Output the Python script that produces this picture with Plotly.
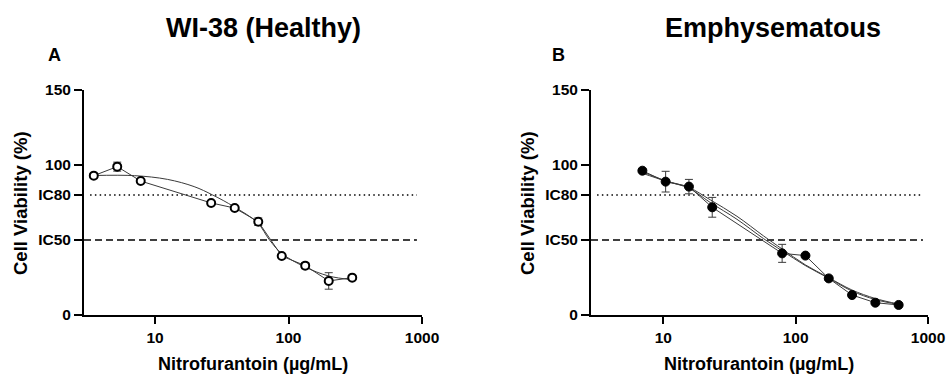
import plotly.graph_objects as go

# ---------------- data ----------------
# Panel A: WI-38 (Healthy)
conc_a = [3.47, 5.2, 7.8, 26.3, 39.5, 59.3, 88.9, 133.3, 200, 300]
viab_a = [92.9, 98.9, 89.3, 74.7, 71.3, 62.2, 39.3, 32.9, 22.7, 24.9]
err_a = [1.5, 3.0, 1.0, 1.0, 1.0, 2.5, 1.0, 2.0, 5.5, 1.0]
fit_conc_a = [3.47, 7, 12.4, 19.6, 27, 39, 58.5, 72, 89, 133, 200, 300]
fit_viab_a = [93.0, 92.9, 90.4, 85.6, 80.0, 72.2, 61.5, 50.0, 41.0, 32.0, 26.0, 23.5]

# Panel B: Emphysematous
conc_b = [6.94, 10.4, 15.6, 23.4, 79.0, 118.5, 177.8, 266.7, 400, 600]
viab_b = [96.2, 88.9, 85.6, 71.8, 41.1, 39.6, 24.4, 13.3, 8.2, 6.7]
err_b = [1.0, 6.9, 4.8, 6.6, 6.0, 1.0, 1.0, 1.0, 1.0, 1.0]
fit_conc_b = [6.94, 10.4, 15.6, 22.6, 36, 57, 79, 118, 177, 266, 400, 600]
fit_viab_b1 = [95.5, 89.5, 85.0, 76.8, 65.8, 52.8, 44.0, 33.5, 25.0, 16.7, 11.0, 7.3]
fit_viab_b2 = [94.5, 89.3, 84.5, 75.0, 63.8, 51.0, 42.8, 33.0, 24.6, 16.0, 10.3, 7.0]

ic80 = 80
ic50 = 50
ytick_vals = [0, 50, 80, 100, 150]
ytick_text = ["0", "IC50", "IC80", "100", "150"]
xtick_vals = [10, 100, 1000]
xtick_text = ["10", "100", "1000"]

titles = ["WI-38 (Healthy)", "Emphysematous"]
letters = ["A", "B"]
xlabel = "Nitrofurantoin (µg/mL)"
ylabel = "Cell Viability (%)"

FONT = "Liberation Sans, Arial, sans-serif"
W, H = 949, 375

fig = go.Figure()

line_col = "#3a3a3a"

# Panel A traces
fig.add_trace(go.Scatter(x=fit_conc_a, y=fit_viab_a, mode="lines",
                         line=dict(color=line_col, width=1, shape="spline", smoothing=1.0),
                         xaxis="x", yaxis="y", showlegend=False, hoverinfo="skip"))
fig.add_trace(go.Scatter(x=conc_a, y=viab_a, mode="lines+markers",
                         line=dict(color=line_col, width=1),
                         marker=dict(symbol="circle", size=8, color="white",
                                     line=dict(color="black", width=2)),
                         error_y=dict(type="data", array=err_a, visible=True,
                                      color=line_col, thickness=1, width=4),
                         xaxis="x", yaxis="y", showlegend=False, cliponaxis=False))

# Panel B traces
fig.add_trace(go.Scatter(x=fit_conc_b, y=fit_viab_b1, mode="lines",
                         line=dict(color=line_col, width=1, shape="spline", smoothing=1.0),
                         xaxis="x2", yaxis="y2", showlegend=False, hoverinfo="skip"))
fig.add_trace(go.Scatter(x=fit_conc_b, y=fit_viab_b2, mode="lines",
                         line=dict(color=line_col, width=1, shape="spline", smoothing=1.0),
                         xaxis="x2", yaxis="y2", showlegend=False, hoverinfo="skip"))
fig.add_trace(go.Scatter(x=conc_b, y=viab_b, mode="lines+markers",
                         line=dict(color=line_col, width=1),
                         marker=dict(symbol="circle", size=9, color="black",
                                     line=dict(color="black", width=1)),
                         error_y=dict(type="data", array=err_b, visible=True,
                                      color=line_col, thickness=1, width=4),
                         xaxis="x2", yaxis="y2", showlegend=False, cliponaxis=False))

# axes
xdom_a = [84 / W, 422 / W]
xdom_b = [591 / W, 928 / W]
ydom = [1 - 315 / H, 1 - 90 / H]

def xaxis_cfg(dom, lo):
    return dict(domain=dom, type="log", range=[lo, 3.0], showline=True, linecolor="black",
                linewidth=2, ticks="outside", ticklen=7, tickwidth=2, tickcolor="black",
                tickvals=xtick_vals, ticktext=xtick_text, showgrid=False, zeroline=False,
                tickfont=dict(family=FONT, size=15.5, color="black", weight="bold"),
                mirror=False, fixedrange=True, automargin=False)

def yaxis_cfg():
    return dict(domain=ydom, range=[0, 150], showline=True, linecolor="black",
                linewidth=2, ticks="outside", ticklen=8, tickwidth=2, tickcolor="black",
                tickvals=ytick_vals, ticktext=ytick_text, showgrid=False, zeroline=False,
                tickfont=dict(family=FONT, size=15.5, color="black", weight="bold"),
                fixedrange=True, automargin=False)

xa = xaxis_cfg(xdom_a, 0.467)
xa["anchor"] = "y"
xb = xaxis_cfg(xdom_b, 0.453)
xb["anchor"] = "y2"
ya = yaxis_cfg()
ya["anchor"] = "x"
yb = yaxis_cfg()
yb["anchor"] = "x2"

shapes = []
for xr, yr in [("x domain", "y"), ("x2 domain", "y2")]:
    shapes.append(dict(type="line", xref=xr, yref=yr, x0=0.018, x1=0.985, y0=ic80, y1=ic80,
                       line=dict(color="black", width=1.5, dash="1.5px,3.3px"), layer="below"))
    shapes.append(dict(type="line", xref=xr, yref=yr, x0=0.0, x1=0.985, y0=ic50, y1=ic50,
                       line=dict(color="black", width=1.5, dash="7px,4px"), layer="below"))

annotations = []
title_x = [263 / W, 773 / W]
letter_x = [54 / W, 558 / W]
xlabel_x = [253 / W, 759 / W]
ylabel_x = [20 / W, 527 / W]
for i in range(2):
    annotations.append(dict(text=titles[i], x=title_x[i], y=1 - 28 / H, xref="paper", yref="paper",
                            showarrow=False, xanchor="center", yanchor="middle",
                            font=dict(family=FONT, size=27, color="black", weight="bold")))
    annotations.append(dict(text=letters[i], x=letter_x[i], y=1 - 55 / H, xref="paper", yref="paper",
                            showarrow=False, xanchor="center", yanchor="middle",
                            font=dict(family=FONT, size=18, color="black", weight="bold")))
    annotations.append(dict(text=xlabel, x=xlabel_x[i], y=0.0, xref="paper", yref="paper",
                            showarrow=False, xanchor="center", yanchor="bottom", borderpad=0,
                            font=dict(family=FONT, size=18, color="black", weight="bold")))
    annotations.append(dict(text=ylabel, x=ylabel_x[i], y=1 - 203 / H, xref="paper", yref="paper",
                            showarrow=False, xanchor="center", yanchor="middle", textangle=-90,
                            font=dict(family=FONT, size=18.5, color="black", weight="bold")))

fig.update_layout(
    template="none",
    width=W, height=H, margin=dict(l=0, r=0, t=0, b=0, pad=0, autoexpand=False),
    paper_bgcolor="white", plot_bgcolor="white",
    xaxis=xa, yaxis=ya, xaxis2=xb, yaxis2=yb,
    shapes=shapes, annotations=annotations, showlegend=False,
    font=dict(family=FONT, color="black"),
)

post = ("document.body.style.margin='0';document.body.style.padding='0';"
        "document.body.style.overflow='hidden';"
        "document.documentElement.style.overflow='hidden';")
fig.write_html("out.html", post_script=post, config={"displayModeBar": False})
